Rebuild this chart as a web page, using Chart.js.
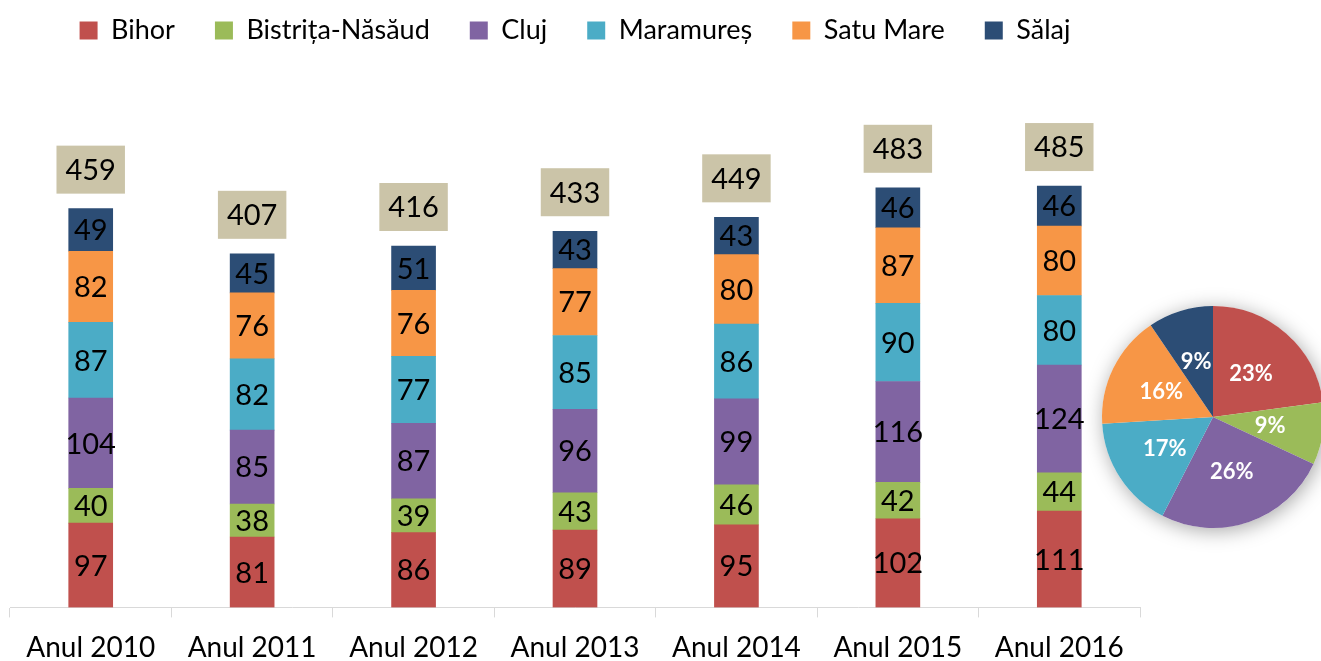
<!DOCTYPE html>
<html>
<head>
<meta charset="utf-8">
<script src="https://cdn.jsdelivr.net/npm/chart.js@4.4.1/dist/chart.umd.min.js"></script>
<style>
  html, body { margin: 0; padding: 0; background: #fff; width: 1321px; height: 661px; overflow: hidden; }
  #bars { position: absolute; left: 0; top: 0; }
  #pie { position: absolute; left: 1063px; top: 267px; }
</style>
</head>
<body>
<canvas id="bars" width="1150" height="661"></canvas>
<canvas id="pie" width="300" height="300"></canvas>
<script>
// categories + series (counts per county per year)
const years = ['Anul 2010', 'Anul 2011', 'Anul 2012', 'Anul 2013', 'Anul 2014', 'Anul 2015', 'Anul 2016'];
const counties = ['Bihor', 'Bistrița-Năsăud', 'Cluj', 'Maramureș', 'Satu Mare', 'Sălaj'];
const bihor     = [97, 81, 86, 89, 95, 102, 111];
const bistrita  = [40, 38, 39, 43, 46, 42, 44];
const cluj      = [104, 85, 87, 96, 99, 116, 124];
const maramures = [87, 82, 77, 85, 86, 90, 80];
const satuMare  = [82, 76, 76, 77, 80, 87, 80];
const salaj     = [49, 45, 51, 43, 43, 46, 46];
// pie = year 2016 split, labels as printed on the slices
const pieLabels = ['23%', '9%', '26%', '17%', '16%', '9%'];

const colors = ['#C0504D', '#9BBB59', '#8064A2', '#4BACC6', '#F79646', '#2C4D75'];
const series = [bihor, bistrita, cluj, maramures, satuMare, salaj];
const totals = years.map((_, i) => series.reduce((s, arr) => s + arr[i], 0));
const pieValues = series.map(arr => arr[arr.length - 1]);

const FONT = 'Lato, "Open Sans", sans-serif';

// numbers inside each segment + beige total box above each stack
const barLabels = {
    id: 'barLabels',
    afterDatasetsDraw(chart) {
        const ctx = chart.ctx;
        ctx.save();
        ctx.textAlign = 'center';
        ctx.textBaseline = 'middle';
        ctx.font = '29px ' + FONT;
        ctx.fillStyle = '#000';
        chart.data.datasets.forEach((ds, di) => {
            chart.getDatasetMeta(di).data.forEach((bar, i) => {
                ctx.fillText(ds.data[i], bar.x, (bar.y + bar.base) / 2 + 1);
            });
        });
        const top = chart.getDatasetMeta(chart.data.datasets.length - 1).data;
        top.forEach((bar, i) => {
            const txt = String(totals[i]);
            const w = ctx.measureText(txt).width + 18;
            const h = 48;
            const y0 = bar.y - 15 - h;
            ctx.fillStyle = '#CBC4A8';
            ctx.fillRect(bar.x - w / 2, y0, w, h);
            ctx.fillStyle = '#000';
            ctx.fillText(txt, bar.x, y0 + h / 2 + 1);
        });
        ctx.restore();
    }
};

new Chart(document.getElementById('bars'), {
    type: 'bar',
    data: {
        labels: years,
        datasets: counties.map((name, k) => ({
            label: name,
            data: series[k],
            backgroundColor: colors[k],
            borderWidth: 0,
            barThickness: 44
        }))
    },
    options: {
        responsive: false,
        animation: false,
        layout: { padding: { left: 10, right: 10, top: -23, bottom: -18 } },
        plugins: {
            legend: {
                position: 'top',
                labels: {
                    boxWidth: 18,
                    boxHeight: 18,
                    padding: 40,
                    color: '#000',
                    font: { family: FONT, size: 27 }
                }
            },
            tooltip: { enabled: false }
        },
        scales: {
            x: {
                stacked: true,
                grid: { drawOnChartArea: false, tickLength: 10, color: '#D9D9D9', offset: true },
                border: { color: '#D9D9D9', width: 1 },
                ticks: { color: '#000', padding: 14, font: { family: FONT, size: 28 } }
            },
            y: {
                stacked: true,
                display: false,
                min: 0,
                max: 637
            }
        }
    },
    plugins: [barLabels]
});

// soft shadow behind the pie + percent labels
const pieDecor = {
    id: 'pieDecor',
    beforeDatasetsDraw(chart) {
        const arc = chart.getDatasetMeta(0).data[0];
        const ctx = chart.ctx;
        ctx.save();
        ctx.shadowColor = 'rgba(0,0,0,0.35)';
        ctx.shadowBlur = 20;
        ctx.shadowOffsetX = 2;
        ctx.shadowOffsetY = 3;
        ctx.beginPath();
        ctx.arc(arc.x, arc.y, arc.outerRadius, 0, Math.PI * 2);
        ctx.fillStyle = '#fff';
        ctx.fill();
        ctx.restore();
    },
    afterDatasetsDraw(chart) {
        const ctx = chart.ctx;
        ctx.save();
        ctx.textAlign = 'center';
        ctx.textBaseline = 'middle';
        ctx.font = 'bold 22px ' + FONT;
        ctx.fillStyle = '#fff';
        chart.getDatasetMeta(0).data.forEach((arc, i) => {
            const mid = (arc.startAngle + arc.endAngle) / 2;
            const r = arc.outerRadius * 0.52;
            ctx.fillText(pieLabels[i], arc.x + Math.cos(mid) * r, arc.y + Math.sin(mid) * r);
        });
        ctx.restore();
    }
};

new Chart(document.getElementById('pie'), {
    type: 'pie',
    data: {
        labels: counties,
        datasets: [{ data: pieValues, backgroundColor: colors, borderWidth: 0 }]
    },
    options: {
        responsive: false,
        animation: false,
        layout: { padding: 39 },
        plugins: { legend: { display: false }, tooltip: { enabled: false } }
    },
    plugins: [pieDecor]
});
</script>
</body>
</html>
